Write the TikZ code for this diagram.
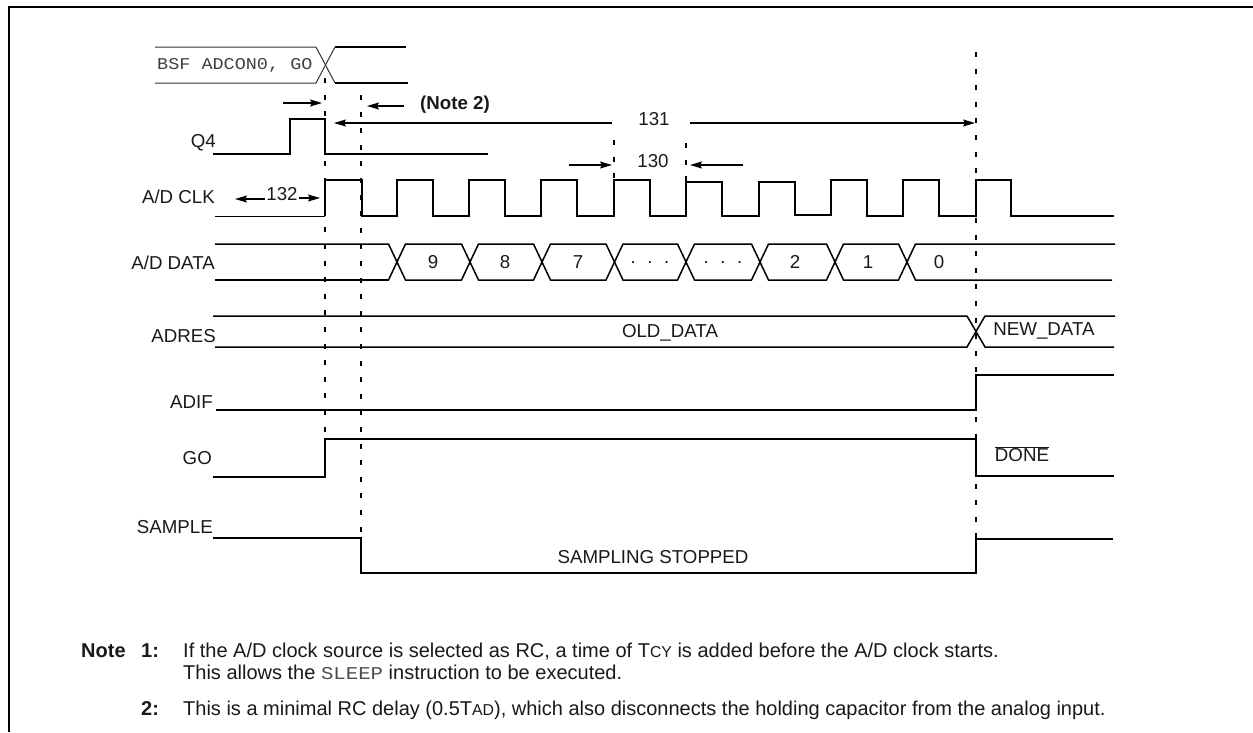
\documentclass[tikz,border=0pt]{standalone}
\usepackage{fontspec}
\usetikzlibrary{arrows.meta}
\setmainfont{Liberation Sans}
\newfontfamily\monof[FakeStretch=1.12]{Liberation Mono}
\newfontfamily\monoplain[FakeStretch=1.15]{Liberation Mono}
\tikzset{
 wave/.style={line width=1.5pt,line cap=butt,line join=miter},
 thinwave/.style={line width=1pt},
 guide/.style={line width=1.4pt,dash pattern=on 5pt off 11.6pt},
 dim/.style={line width=1.3pt,-{Stealth[length=12pt,width=7pt,inset=2pt]}},
 lbl/.style={font=\fontsize{18.7}{20}\selectfont,inner sep=0pt,text=black!90},
 sig/.style={lbl,anchor=east},
 mid/.style={lbl,anchor=center},
 note/.style={font=\fontsize{20}{22}\selectfont,inner sep=0pt,anchor=base west,text=black!90},
 boldnote/.style={note,font=\bfseries\fontsize{20}{22}\selectfont},
 frame/.style={line width=2pt}
}
\newcommand{\smc}[1]{{\fontsize{15.8}{16}\selectfont #1}}
\newcommand{\mon}[1]{{\monoplain\fontsize{18}{18}\selectfont\color{black!70}#1}}
\newcommand{\wdots}{{\spaceskip=9.8pt . . .}}
\begin{document}
\begin{tikzpicture}[x=1pt,y=-1pt]
\useasboundingbox (0,0) rectangle (1253,732);
% frame
\coordinate (fbl) at (9,732); \coordinate (ftl) at (9,7);
\coordinate (ftr) at (1253,7);
\draw[frame] (fbl) -- (ftl) -- (ftr);
% guides
\coordinate (g1t) at (325,78); \coordinate (g1b) at (325,439);
\coordinate (g2t) at (361,95); \coordinate (g2b) at (361,538);
\coordinate (g3t) at (976,52); \coordinate (g3b) at (976,573);
\coordinate (g4t) at (614,140); \coordinate (g4b) at (614,216);
\coordinate (g5t) at (686,143); \coordinate (g5b) at (686,217);
\draw[guide] (g1t) -- (g1b);
\draw[guide] (g2t) -- (g2b);
\draw[guide] (g3t) -- (g3b);
\draw[guide] (g4t) -- (g4b);
\draw[guide] (g5t) -- (g5b);
% BSF bus
\draw[thinwave,black!80] (155,47) -- (316,47) -- (335,83);
\draw[thinwave,black!80] (155,83) -- (316,83) -- (335,47);
\draw[wave] (335,47) -- (406,47);
\draw[wave] (335,83) -- (408,83);
\node[anchor=west,inner sep=0pt,font=\monof\fontsize{16.5}{16}\selectfont,text=black!75] (bsf) at (157,65) {BSF ADCON0, GO};
% Q4
\draw[wave] (213,154) -- (290,154) -- (290,119) -- (325,119) -- (325,154) -- (488,154);
\node[sig] (q4) at (216,143) {Q4};
% CLK
\draw[thinwave] (215,216) -- (325,216);
\draw[wave] (325,216) -- (325,180) -- (362,180) -- (362,216) -- (397,216) -- (397,180) -- (433,180) -- (433,216) -- (469,216) -- (469,180) -- (505,180) -- (505,216) -- (541,216) -- (541,180) -- (577,180) -- (577,216) -- (614,216) -- (614,180) -- (650,180) -- (650,216) -- (686,216) -- (686,182) -- (722,182) -- (722,216) -- (759,216) -- (759,182) -- (795,182) -- (795,215) -- (831,215) -- (831,180) -- (867,180) -- (867,216) -- (903,216) -- (903,180) -- (939,180) -- (939,216) -- (976,216) -- (976,180) -- (1011,180) -- (1011,216) -- (1114,216);
\node[sig] (clk) at (215,197) {A/D CLK};
\node[lbl] (t132) at (282,194) {132};
\coordinate (a132a) at (265,199); \coordinate (a132l) at (235,199);
\coordinate (a132b) at (299,198); \coordinate (a132r) at (320,198);
\draw[dim] (a132a) -- (a132l);
\draw[dim] (a132b) -- (a132r);
% DATA bus
\draw[wave] (215,244) -- (388.5,244) -- (405.5,280) -- (461.5,280) -- (478.5,244) -- (533.5,244) -- (550.5,280) -- (606,280) -- (623,244) -- (677.5,244) -- (694.5,280) -- (751.5,280) -- (768.5,244) -- (826.5,244) -- (843.5,280) -- (898.5,280) -- (915.5,244) -- (1115,244);
\draw[wave] (388.5,280) -- (405.5,244) -- (461.5,244) -- (478.5,280) -- (533.5,280) -- (550.5,244) -- (606,244) -- (623,280) -- (677.5,280) -- (694.5,244) -- (751.5,244) -- (768.5,280) -- (826.5,280) -- (843.5,244) -- (898.5,244) -- (915.5,280) -- (1112,280);
\draw[wave] (215,280) -- (388.5,280);
\node[sig] (dat) at (215,263) {A/D DATA};
\node[mid] (d9) at (433,262) {9};
\node[mid] (d8) at (505,262) {8};
\node[mid] (d7) at (578,262) {7};
\node[mid] (d6) at (650,262.7) {\wdots};
\node[mid] (d5) at (723,262.7) {\wdots};
\node[mid] (d2) at (795,262) {2};
\node[mid] (d1) at (868,262) {1};
\node[mid] (d0) at (939,262) {0};
% ADRES
\draw[wave] (213,316) -- (967,316) -- (985,347) -- (1114,347);
\draw[wave] (215,347) -- (967,347) -- (985,316) -- (1115,316);
\node[sig] (adres) at (216,336) {ADRES};
\node[mid] (old) at (670,333) {OLD\_DATA};
\node[mid] (new) at (1044,331) {NEW\_DATA};
% ADIF
\draw[wave] (216,410) -- (976,410) -- (976,375) -- (1114,375);
\node[sig] (adif) at (213,402) {ADIF};
% GO
\draw[wave] (213,477) -- (325,477) -- (325,439) -- (976,439) -- (976,476) -- (1114,476);
\node[sig] (go) at (212,458) {GO};
\node[mid] (done) at (1022,454) {$\overline{\mbox{DONE}}$};
% SAMPLE
\draw[wave] (213,538) -- (361,538) -- (361,573) -- (976,573) -- (976,539) -- (1113,539);
\node[sig] (samp) at (213,527) {SAMPLE};
\node[mid] (stop) at (653,557) {SAMPLING STOPPED};
% dimensions
\coordinate (n2ra) at (283,103); \coordinate (n2rb) at (322,103);
\coordinate (n2la) at (404,106); \coordinate (n2lb) at (367,106);
\draw[dim] (n2ra) -- (n2rb);
\draw[dim] (n2la) -- (n2lb);
\node[lbl,anchor=west,font=\bfseries\fontsize{18.7}{20}\selectfont] (n2) at (420,105) {(Note 2)};
\node[mid] (t131) at (654,119) {131};
\coordinate (a131l) at (334,123); \coordinate (a131r) at (975,123);
\coordinate (a131a) at (611.7,123); \coordinate (a131b) at (690,123);
\draw[dim] (a131a) -- (a131l);
\draw[dim] (a131b) -- (a131r);
\node[mid] (t130) at (653,161) {130};
\coordinate (a130a) at (569,165); \coordinate (a130b) at (612,165);
\coordinate (a130c) at (743,165); \coordinate (a130d) at (690,165);
\draw[dim] (a130a) -- (a130b);
\draw[dim] (a130c) -- (a130d);
% notes
\node[boldnote] (nn) at (81,657) {Note};
\node[boldnote] (n1) at (141,657) {1:};
\node[note] (n1a) at (183,657) {If the A/D clock source is selected as RC, a time of T\smc{CY} is added before the A/D clock starts.};
\node[note] (n1b) at (183,679) {This allows the \mon{SLEEP} instruction to be executed.};
\node[boldnote] (n2n) at (141,715) {2:};
\node[note] (n2a) at (183,715) {This is a minimal RC delay (0.5T\smc{AD}), which also disconnects the holding capacitor from the analog input.};
\end{tikzpicture}
\end{document}
